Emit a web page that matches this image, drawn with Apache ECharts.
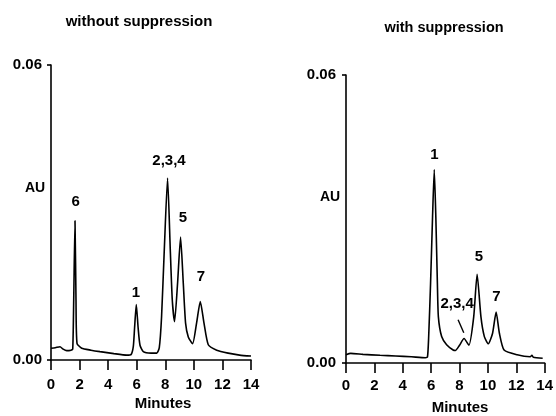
<!DOCTYPE html>
<html>
<head>
<meta charset="utf-8">
<title>suppression chromatograms</title>
<script src="https://cdn.jsdelivr.net/npm/echarts@6/dist/echarts.min.js"></script>
<style>
	html, body { margin: 0; padding: 0; background: #fff; }
	#chart { width: 556px; height: 416px; }
</style>
</head>
<body>
<div id="chart"></div>
<script>
/**
 * chromatogram data: [minutes, AU]
 */
var trace_without = [
	[0.0, 0.0024], [0.3, 0.0025], [0.63, 0.0027], [0.85, 0.0022], [1.1, 0.0019],
	[1.4, 0.0020], [1.52, 0.0022], [1.59, 0.0122], [1.68, 0.0283], [1.75, 0.0122],
	[1.82, 0.0034], [2.15, 0.0024], [2.8, 0.0020], [3.43, 0.0017], [4.4, 0.0013],
	[5.3, 0.0010], [5.6, 0.0011], [5.76, 0.0027], [5.85, 0.0065], [5.97, 0.0113],
	[6.1, 0.0065], [6.23, 0.0030], [6.46, 0.0017], [7.0, 0.0014], [7.4, 0.0014],
	[7.58, 0.0025], [7.74, 0.0088], [7.93, 0.0224], [8.16, 0.0370], [8.35, 0.0224],
	[8.49, 0.0122], [8.65, 0.0078], [8.86, 0.0156], [9.07, 0.0250], [9.26, 0.0156],
	[9.42, 0.0075], [9.61, 0.0047], [9.91, 0.0033], [10.19, 0.0075], [10.45, 0.0119],
	[10.71, 0.0075], [11.01, 0.0031], [11.6, 0.0020], [12.4, 0.0014], [13.2, 0.0010],
	[14.0, 0.0008]
];

var trace_with = [
	[0.0, 0.0017], [0.33, 0.0020], [1.2, 0.0018], [2.4, 0.0016], [3.5, 0.00146],
	[4.6, 0.0013], [5.6, 0.0011], [5.74, 0.0012], [5.82, 0.0050], [5.96, 0.0166],
	[6.1, 0.0305], [6.22, 0.0403], [6.33, 0.0305], [6.44, 0.0166], [6.51, 0.0096],
	[6.74, 0.0055], [7.09, 0.0038], [7.55, 0.0027], [7.71, 0.0026], [8.0, 0.0037],
	[8.32, 0.0051], [8.66, 0.0037], [9.0, 0.0096], [9.24, 0.0185], [9.51, 0.0096],
	[9.75, 0.0055], [10.03, 0.0040], [10.33, 0.0062], [10.58, 0.0106], [10.81, 0.0062],
	[11.14, 0.0027], [12.06, 0.0017], [12.98, 0.0013], [13.1, 0.0016], [13.2, 0.0012],
	[13.86, 0.0010]
];

/**
 * peak labels: [text, minutes, AU]
 */
var peaks_without = [
	['6', 1.72, 0.0321],
	['1', 5.95, 0.0136],
	['2,3,4', 8.26, 0.0405],
	['5', 9.24, 0.0289],
	['7', 10.5, 0.0169]
];

var peaks_with = [
	['1', 6.24, 0.0433],
	['2,3,4', 7.83, 0.0123],
	['5', 9.36, 0.0221],
	['7', 10.6, 0.0138]
];

// leader from "2,3,4" to its small peak
var leader_with = [[7.9, 0.0090], [8.3, 0.0063]];

var x_ticks = [0, 14, 2];
var y_ticks = [0, 0.06, 0.06];

var FONT = "'Liberation Sans', Arial, sans-serif";
var INK = '#000';

var chromatogram = {
	init : function(){
		var myChart = echarts.init(document.getElementById('chart'), null, {renderer: 'canvas'});
		myChart.setOption(chromatogram.options());
	},

	x_axis : function(grid, margin){
		return {
			type : 'value',
			gridIndex : grid,
			min : x_ticks[0],
			max : x_ticks[1],
			interval : x_ticks[2],
			splitLine : { show : false },
			axisLine : { show : true, onZero : false, lineStyle : { color : INK, width : 1.6 } },
			axisTick : { show : true, length : 10, lineStyle : { color : INK, width : 1.6 } },
			axisLabel : { margin : margin, color : INK, fontSize : 15, fontWeight : 'bold', fontFamily : FONT }
		};
	},

	y_axis : function(grid, margin){
		return {
			type : 'value',
			gridIndex : grid,
			min : y_ticks[0],
			max : y_ticks[1],
			interval : y_ticks[2],
			splitLine : { show : false },
			axisLine : { show : true, lineStyle : { color : INK, width : 1.6 } },
			axisTick : { show : true, length : 4, lineStyle : { color : INK, width : 1.6 } },
			axisLabel : {
				margin : margin, color : INK, fontSize : 15, fontWeight : 'bold', fontFamily : FONT,
				formatter : function(v){ return v.toFixed(2); }
			}
		};
	},

	trace : function(idx, data){
		return {
			type : 'line',
			xAxisIndex : idx,
			yAxisIndex : idx,
			data : data,
			showSymbol : false,
			smooth : 0.2,
			lineStyle : { color : INK, width : 1.6 },
			silent : true,
			z : 3
		};
	},

	labels : function(idx, peaks){
		return {
			type : 'scatter',
			xAxisIndex : idx,
			yAxisIndex : idx,
			symbolSize : 0,
			silent : true,
			itemStyle : { opacity : 1, color : INK },
			data : peaks.map(function(p){ return { name : p[0], value : [p[1], p[2]] }; }),
			label : {
				show : true,
				position : 'inside',
				formatter : '{b}',
				color : INK,
				opacity : 1,
				fontSize : 15,
				fontWeight : 'bold',
				fontFamily : FONT
			}
		};
	},

	text : function(x, y, str, size){
		return {
			type : 'text',
			x : x,
			y : y,
			style : {
				text : str,
				fill : INK,
				font : 'bold ' + size + 'px ' + FONT,
				textAlign : 'center',
				textVerticalAlign : 'middle'
			}
		};
	},

	options : function(){
		var right_trace = chromatogram.trace(1, trace_with);
		right_trace.markLine = {
			silent : true,
			symbol : ['none', 'none'],
			label : { show : false },
			lineStyle : { color : INK, width : 1.4, type : 'solid' },
			data : [[ { coord : leader_with[0] }, { coord : leader_with[1] } ]]
		};
		return {
			animation : false,
			backgroundColor : '#fff',
			grid : [
				{ left : 51, top : 65, width : 200, height : 295 },
				{ left : 346, top : 75, width : 202, height : 288 }
			],
			xAxis : [ chromatogram.x_axis(0, 17), chromatogram.x_axis(1, 15) ],
			yAxis : [ chromatogram.y_axis(0, 9), chromatogram.y_axis(1, 10) ],
			series : [
				chromatogram.trace(0, trace_without),
				right_trace,
				chromatogram.labels(0, peaks_without),
				chromatogram.labels(1, peaks_with)
			],
			graphic : [
				chromatogram.text(139, 22, 'without suppression', 15),
				chromatogram.text(444, 28, 'with suppression', 14.5),
				chromatogram.text(35, 188, 'AU', 14),
				chromatogram.text(330, 197, 'AU', 14),
				chromatogram.text(163, 404, 'Minutes', 15),
				chromatogram.text(460, 408, 'Minutes', 15)
			]
		};
	}
};

chromatogram.init();
</script>
</body>
</html>
